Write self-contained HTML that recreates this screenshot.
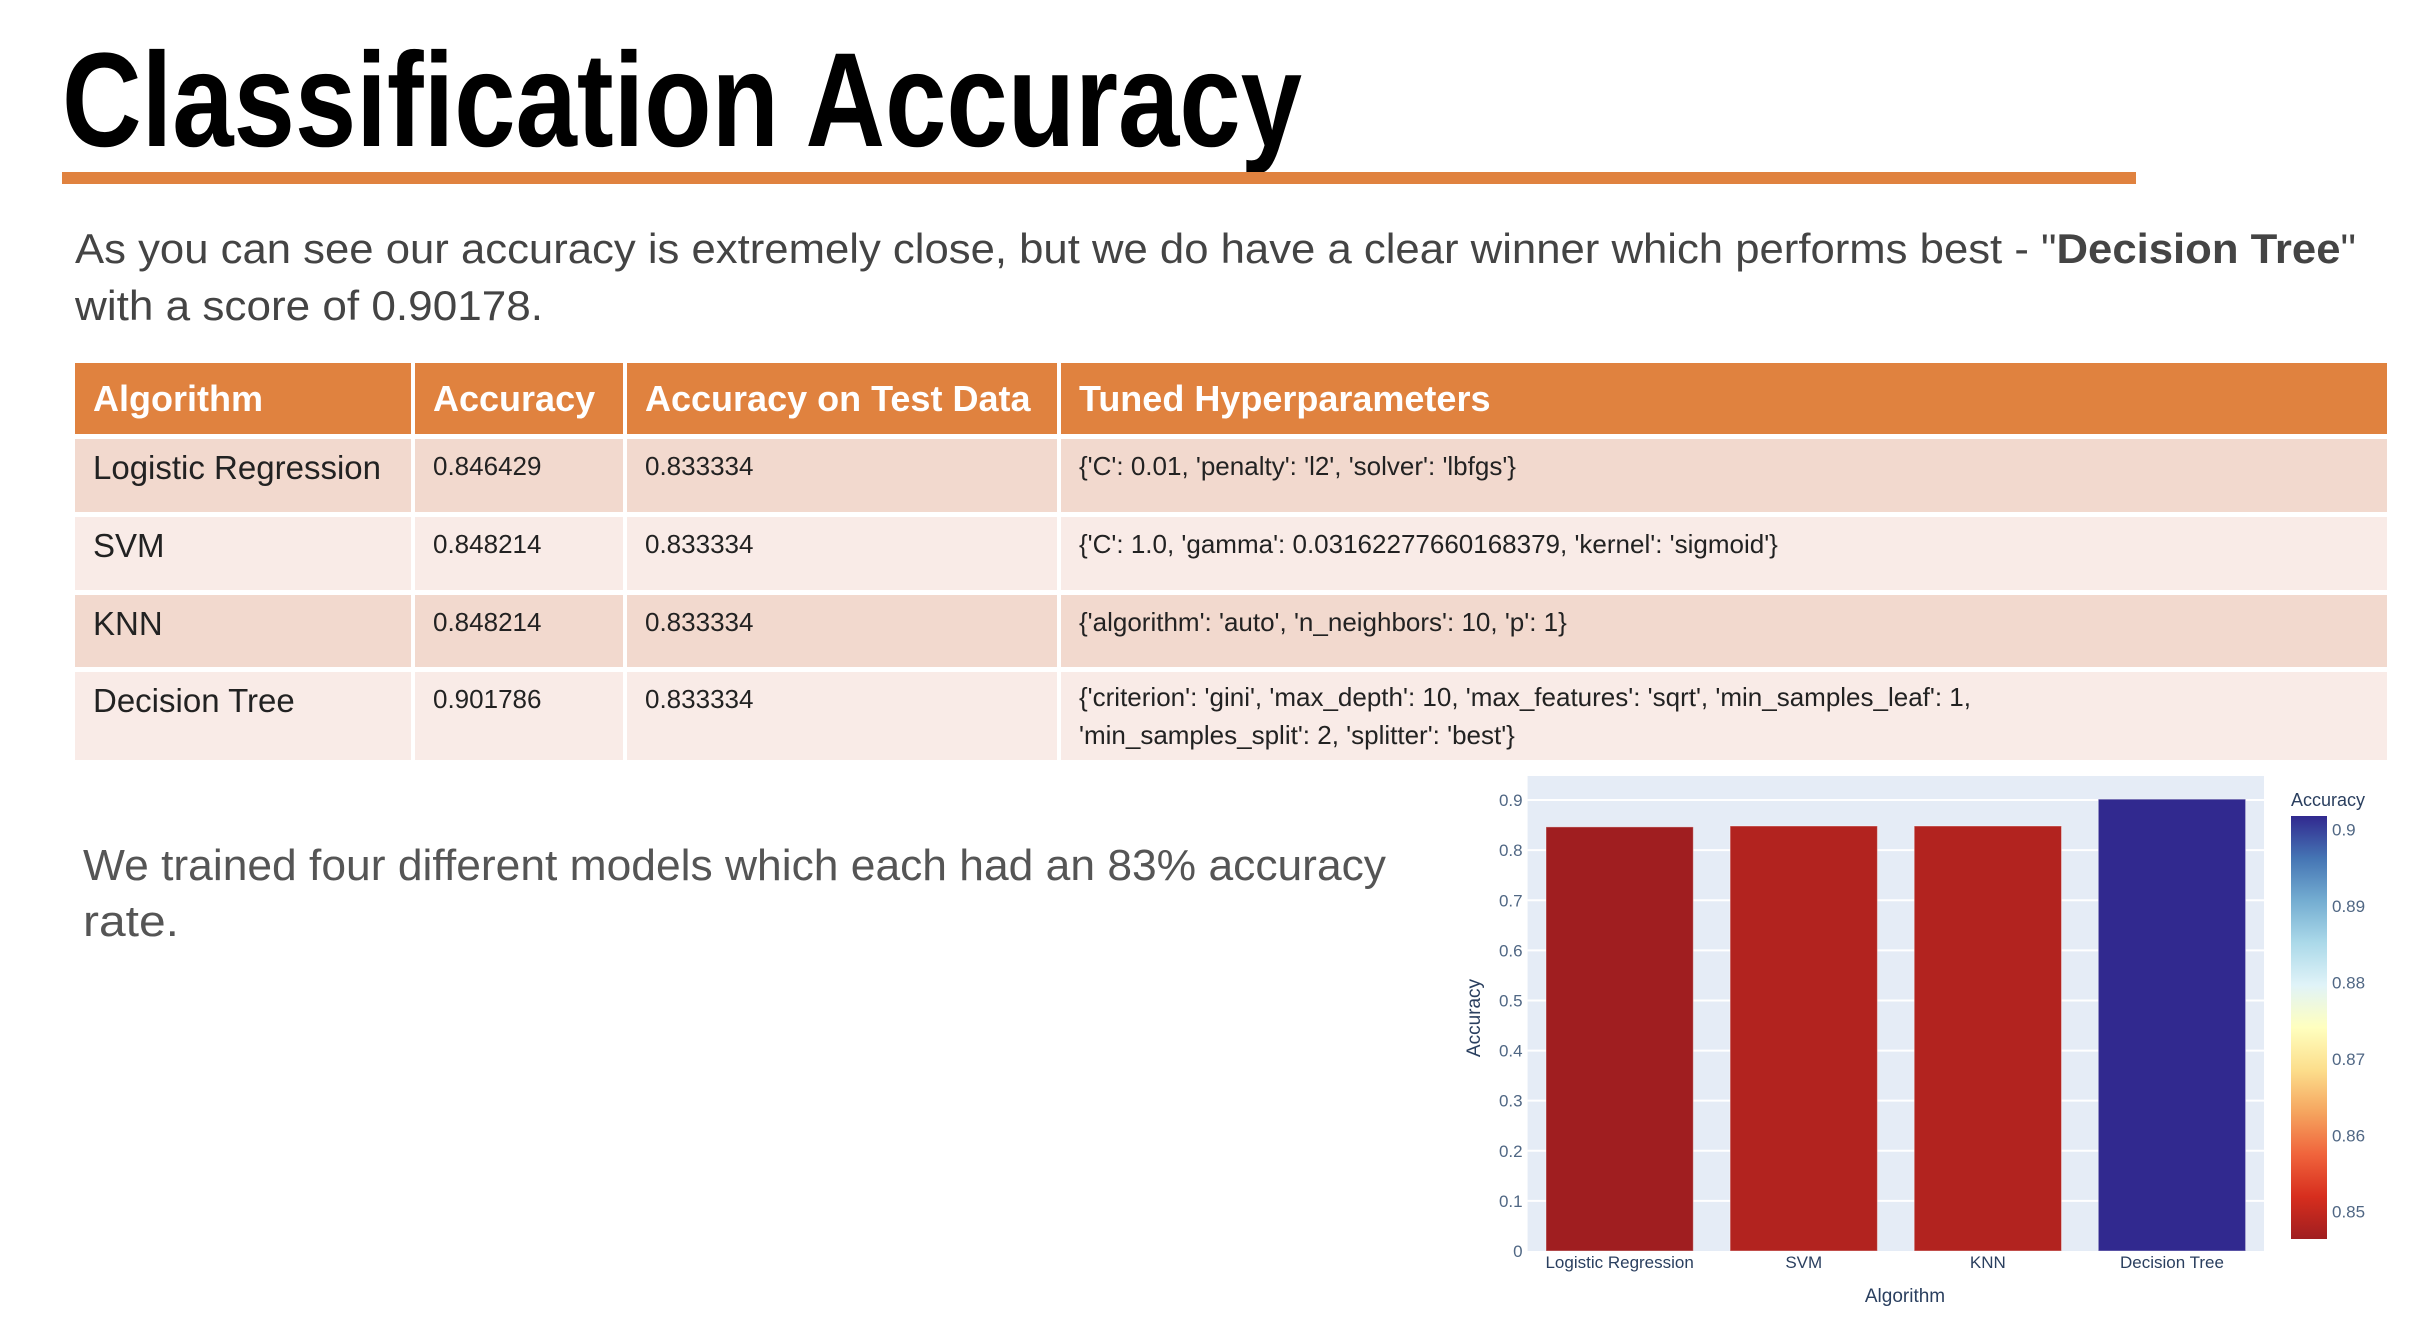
<!DOCTYPE html>
<html><head><meta charset="utf-8"><style>
body{margin:0;width:2434px;height:1324px;background:#fff;position:relative;overflow:hidden;font-family:"Liberation Sans",sans-serif}
.abs{position:absolute;white-space:nowrap;transform-origin:0 0}
.fit{display:inline-block}
table{position:absolute;left:75px;top:363px;width:2325px;border-collapse:separate;border-spacing:0}
td,th{text-align:left;vertical-align:top;padding:0 0 0 18px;border-right:4px solid #fff;border-bottom:5px solid #fff;white-space:nowrap;color:#222}
th{background:#E0823F;color:#fff;font-size:36px;height:71px;vertical-align:middle}
td{font-size:26px;padding-top:12px}
td.c1{font-size:33px;padding-top:10px}
tr.a td{background:#F2D9CE}
tr.b td{background:#F9EBE7}
</style></head><body>
<div class="abs" style="left:62px;top:24px;font-size:134px;font-weight:bold;color:#000"><span class="fit" data-w="1240">Classification Accuracy</span></div>
<div style="position:absolute;left:62px;top:172px;width:2074px;height:12px;background:#E0823F"></div>
<div class="abs" style="left:75px;top:225px;font-size:42px;color:#444"><span class="fit" data-w="2281">As you can see our accuracy is extremely close, but we do have a clear winner which performs best - "<b>Decision Tree</b>"</span></div>
<div class="abs" style="left:75px;top:282px;font-size:42px;color:#444"><span class="fit" data-w="468">with a score of 0.90178.</span></div>
<table style="width:2325px">
<tr><th style="width:318px">Algorithm</th><th style="width:190px">Accuracy</th><th style="width:412px">Accuracy on Test Data</th><th>Tuned Hyperparameters</th></tr>
<tr class="a" style="height:78px"><td class="c1">Logistic Regression</td><td>0.846429</td><td>0.833334</td><td>{'C': 0.01, 'penalty': 'l2', 'solver': 'lbfgs'}</td></tr>
<tr class="b" style="height:78px"><td class="c1">SVM</td><td>0.848214</td><td>0.833334</td><td>{'C': 1.0, 'gamma': 0.03162277660168379,  'kernel': 'sigmoid'}</td></tr>
<tr class="a" style="height:77px"><td class="c1">KNN</td><td>0.848214</td><td>0.833334</td><td>{'algorithm': 'auto', 'n_neighbors': 10, 'p': 1}</td></tr>
<tr class="b" style="height:93px"><td class="c1">Decision Tree</td><td>0.901786</td><td>0.833334</td><td style="line-height:38px;padding-top:6px">{'criterion': 'gini', 'max_depth': 10, 'max_features': 'sqrt', 'min_samples_leaf': 1,<br>'min_samples_split': 2, 'splitter': 'best'}</td></tr>
</table>
<div class="abs" style="left:83px;top:841px;font-size:44px;color:#555"><span class="fit" data-w="1303">We trained four different models which each had an 83% accuracy</span></div>
<div class="abs" style="left:83px;top:897px;font-size:44px;color:#555"><span class="fit" data-w="96">rate.</span></div>
<svg id="chart" width="2434" height="1324" style="position:absolute;left:0;top:0" font-family="Liberation Sans, sans-serif"></svg>
<script>
document.querySelectorAll('.fit').forEach(function(s){var w=s.getBoundingClientRect().width;var t=+s.getAttribute('data-w');s.style.transformOrigin='0 0';s.style.transform='scaleX('+(t/w)+')';});
(function(){var tb=document.querySelector('table');var w=tb.getBoundingClientRect().width;if(w>2316){tb.style.width=(2325-(w-2316))+'px';}})();
</script>
<script>
const categories=["Logistic Regression","SVM","KNN","Decision Tree"];
const accuracyValues=[0.846429,0.848214,0.848214,0.901786];
const yTicks=[0,0.1,0.2,0.3,0.4,0.5,0.6,0.7,0.8,0.9];
const yTickLabels=["0","0.1","0.2","0.3","0.4","0.5","0.6","0.7","0.8","0.9"];
const cbTicks=[0.85,0.86,0.87,0.88,0.89,0.9];
const cbTickLabels=["0.85","0.86","0.87","0.88","0.89","0.9"];
const NS="http://www.w3.org/2000/svg";
const svg=document.getElementById('chart');
const L=1527.6,R=2264,T=776,B=1251,yMax=0.948;
const x=i=>L+(R-L)/categories.length*(i+0.5);
const bw=(R-L)/categories.length*0.8;
const y=v=>B-(v/yMax)*(B-T);
const scale=[[160,30,32],[215,46,30],[240,100,60],[245,165,95],[252,222,140],[255,255,191],[224,243,248],[171,217,233],[116,173,209],[69,117,180],[49,41,143]];
const vmin=Math.min(...accuracyValues),vmax=Math.max(...accuracyValues);
function col(v){let t=(v-vmin)/(vmax-vmin);t=Math.max(0,Math.min(1,t))*(scale.length-1);const i=Math.min(Math.floor(t),scale.length-2),f=t-i;const c=scale[i].map((a,k)=>Math.round(a+(scale[i+1][k]-a)*f));return 'rgb('+c.join(',')+')';}
function mk(tag,attrs,txt){const e=document.createElementNS(NS,tag);for(const k in attrs)e.setAttribute(k,attrs[k]);if(txt!==undefined)e.textContent=txt;svg.appendChild(e);return e;}
let e=mk('rect',{x:L,y:T,width:R-L,height:B-T,fill:'#E5ECF6'});


yTicks.forEach((v,i)=>{
 if(v>0){let g=mk('line',{x1:L,x2:R,y1:y(v),y2:y(v),stroke:'#fff','stroke-width':2});
 
 }
 let t=mk('text',{x:L-5,y:y(v)+6,'text-anchor':'end','font-size':17,fill:'#506784'},yTickLabels[i]);
 
 
});
categories.forEach((c,i)=>{
 let b=mk('rect',{x:x(i)-bw/2,y:y(accuracyValues[i]),width:bw,height:B-y(accuracyValues[i]),fill:col(accuracyValues[i]),stroke:'rgba(255,255,255,0.4)','stroke-width':1});
 
 
 let t=mk('text',{x:x(i),y:1268,'text-anchor':'middle','font-size':17,fill:'#2a3f5f'},c);
 
 
});
e=mk('text',{x:1905,y:1302,'text-anchor':'middle','font-size':19,fill:'#2a3f5f'},'Algorithm');


e=mk('text',{x:1480,y:1018,'text-anchor':'middle','font-size':19,fill:'#2a3f5f',transform:'rotate(-90 1480 1018)'},'Accuracy');


const cbX=2291,cbW=36,cbT=816,cbB=1239;
const cy=v=>cbB-(v-vmin)/(vmax-vmin)*(cbB-cbT);
const defs=document.createElementNS(NS,'defs');svg.appendChild(defs);
const gr=document.createElementNS(NS,'linearGradient');gr.setAttribute('id','cbg');gr.setAttribute('x1',0);gr.setAttribute('x2',0);gr.setAttribute('y1',1);gr.setAttribute('y2',0);defs.appendChild(gr);
scale.forEach((c,i)=>{const s=document.createElementNS(NS,'stop');s.setAttribute('offset',i/(scale.length-1));s.setAttribute('stop-color','rgb('+c.join(',')+')');gr.appendChild(s);});
e=mk('rect',{x:cbX,y:cbT,width:cbW,height:cbB-cbT,fill:'url(#cbg)'});


cbTicks.forEach((v,i)=>{
 let t=mk('text',{x:cbX+cbW+5,y:cy(v)+6,'font-size':17,fill:'#506784'},cbTickLabels[i]);
 
 
});
e=mk('text',{x:cbX,y:806,'font-size':18,fill:'#2a3f5f'},'Accuracy');


</script>
</body></html>
